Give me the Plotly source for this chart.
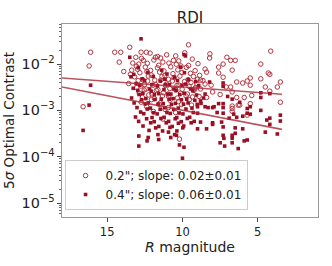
import plotly.graph_objects as go

# ---- data: 0.2" (open circles) : (R magnitude, 5-sigma contrast)
pts02 = [
    (16.1, 1.8e-2), (16.2, 9.1e-3), (16.6, 1.2e-3), (14.5, 1.8e-2), (14.1, 1.8e-2), (14.2, 1.1e-2),
    (13.9, 6.9e-3), (13.5, 2.3e-2), (12.75, 1.8e-2), (12.4, 1.8e-2), (11.8, 1.4e-2), (11.65, 1.45e-2),
    (13.1, 1.4e-2), (12.6, 1.2e-2), (13.3, 1.05e-2), (12.9, 1.0e-2), (11.3, 1.1e-2), (10.9, 1.05e-2),
    (10.6, 1.2e-2), (9.6, 2.6e-2), (10.1, 9.1e-3), (9.6, 9.3e-3),
    (8.18, 1.66e-2), (8.2, 1.35e-2), (7.05, 1.4e-2), (6.8, 1.2e-2), (6.5, 1.2e-2), (7.3, 1.0e-2),
    (7.6, 8.6e-3), (6.7, 7.4e-3), (8.5, 7.8e-3), (8.4, 6.7e-3), (7.6, 6.4e-3), (7.3, 5.2e-3),
    (9.0, 4.7e-3), (8.8, 4.5e-3), (5.5, 5.0e-3), (6.4, 4.1e-3), (6.0, 3.9e-3), (5.7, 4.3e-3),
    (8.5, 3.7e-3), (8.1, 3.5e-3), (6.8, 3.2e-3), (7.1, 3.2e-3), (9.2, 2.9e-3), (8.8, 2.9e-3),
    (8.0, 2.5e-3), (7.5, 2.2e-3), (6.7, 2.5e-3), (5.9, 1.9e-3), (5.4, 2.1e-3), (8.9, 2.0e-3),
    (6.4, 1.9e-3), (6.7, 1.24e-3), (6.3, 1.3e-3), (6.7, 9.6e-4), (9.4, 1.3e-3), (8.4, 1.9e-3),
    (4.14, 1.9e-2), (4.8, 1.0e-2), (4.2, 6.0e-3), (4.8, 4.8e-3), (3.5, 4.1e-3), (4.5, 3.2e-3),
    (3.7, 3.2e-3), (4.2, 2.6e-3), (3.5, 1.5e-3), (5.5, 3.5e-3), (4.3, 6.4e-3), (5.5, 1.4e-3),
    (6.2, 1.3e-3), (5.7, 7.9e-4), (6.7, 1.1e-3),
    (12.15, 1.72e-2), (11.05, 1.58e-2), (10.45, 1.5e-2), (9.85, 1.75e-2), (11.9, 1.22e-2),
    (11.45, 1.35e-2), (10.25, 1.17e-2), (9.35, 1.28e-2), (12.72, 1.33e-2), (12.33, 1.04e-2),
    (11.58, 9.4e-3), (10.41, 9.9e-3), (8.97, 1.02e-2), (13.06, 9.0e-3),
    (12.98, 7.7e-3), (12.47, 8.6e-3), (12.12, 7.3e-3), (11.66, 8.3e-3), (11.23, 7.1e-3), (10.78, 8.7e-3),
    (10.31, 7.5e-3), (9.74, 8.5e-3), (9.16, 7.2e-3), (13.37, 7.4e-3),
    (13.46, 6.0e-3), (12.83, 6.5e-3), (12.36, 6.9e-3), (12.07, 5.8e-3), (11.52, 6.7e-3), (11.17, 5.6e-3),
    (10.63, 6.2e-3), (10.04, 6.6e-3), (9.47, 6.3e-3), (8.86, 5.7e-3),
    (13.18, 5.3e-3), (12.64, 4.6e-3), (12.27, 5.5e-3), (11.84, 4.5e-3), (11.36, 5.4e-3), (10.93, 4.7e-3),
    (10.56, 5.1e-3), (10.17, 5.5e-3), (9.63, 4.6e-3), (9.27, 5.4e-3), (8.64, 4.4e-3),
    (13.57, 3.8e-3), (12.94, 4.4e-3), (12.53, 3.6e-3), (12.31, 4.3e-3), (11.77, 3.6e-3), (11.44, 4.5e-3),
    (11.06, 3.7e-3), (10.67, 4.3e-3), (10.23, 3.5e-3), (9.86, 4.2e-3), (9.43, 4.0e-3), (9.04, 3.7e-3),
    (13.03, 3.1e-3), (12.76, 3.35e-3), (12.42, 2.9e-3), (11.96, 3.5e-3), (11.63, 2.8e-3), (11.14, 3.45e-3),
    (10.84, 2.95e-3), (10.36, 3.45e-3), (10.02, 2.85e-3), (9.56, 3.3e-3), (9.13, 3.1e-3),
    (12.87, 2.35e-3), (12.54, 2.75e-3), (12.03, 2.25e-3), (11.74, 2.7e-3), (11.27, 2.4e-3), (10.96, 2.25e-3),
    (10.44, 2.75e-3), (10.13, 2.35e-3), (9.67, 2.25e-3), (9.24, 2.7e-3),
    (12.66, 1.9e-3), (12.24, 2.15e-3), (11.86, 1.8e-3), (11.33, 2.05e-3), (10.91, 1.95e-3), (10.34, 1.85e-3),
    (9.76, 2.05e-3), (9.33, 1.95e-3),
    (12.74, 1.5e-3), (12.06, 1.7e-3), (11.47, 1.45e-3), (10.83, 1.65e-3), (10.26, 1.55e-3), (9.54, 1.7e-3),
    (12.37, 1.2e-3), (11.56, 1.35e-3), (10.94, 1.15e-3), (10.06, 1.35e-3),
    (11.93, 9.5e-4), (11.16, 1.05e-3), (10.46, 9.0e-4), (11.3, 6.5e-4), (10.2, 2.4e-4),
]

# ---- data: 0.4" (filled squares)
pts04 = [
    (16.1, 3.5e-3), (16.2, 1.3e-3), (16.6, 3.7e-4), (12.75, 3.5e-2), (13.5, 1.4e-2), (9.8, 1.5e-2),
    (9.9, 1.6e-2),
    (7.3, 3.9e-3), (7.3, 3.3e-3), (8.5, 2.25e-3), (8.6, 1.85e-3), (8.8, 1.6e-3), (8.5, 1.2e-3),
    (8.3, 1.15e-3), (8.0, 1.15e-3), (7.9, 1.2e-3), (7.6, 1.4e-3), (7.3, 1.4e-3), (7.3, 1.15e-3),
    (7.7, 9.0e-4), (9.0, 8.7e-4), (9.0, 1.2e-3), (6.7, 1.75e-3), (7.0, 2.0e-3), (6.6, 8.3e-4),
    (6.0, 7.5e-4), (5.7, 8.7e-4), (5.5, 8.3e-4), (7.3, 8.7e-4), (6.4, 7.1e-4), (6.9, 6.8e-4),
    (8.8, 5.6e-4), (9.0, 4.0e-4), (8.4, 4.0e-4), (8.0, 5.0e-4), (7.3, 4.4e-4), (7.4, 5.6e-4),
    (7.3, 2.9e-4), (7.25, 2.5e-4), (7.5, 2.0e-4), (7.2, 1.7e-4), (6.7, 2.5e-4), (6.7, 2.9e-4),
    (6.5, 3.2e-4), (6.5, 4.2e-4), (6.7, 2.0e-4), (6.3, 1.5e-4), (6.0, 4.0e-4), (5.9, 2.2e-4),
    (8.0, 5.4e-4), (8.2, 4.1e-3), (6.2, 1.5e-3), (5.7, 1.1e-3), (5.5, 1.2e-3), (4.4, 6.2e-4),
    (4.8, 2.4e-3), (4.8, 1.9e-3), (4.2, 2.3e-3), (4.8, 1.0e-3), (3.5, 7.9e-4), (4.2, 6.8e-4),
    (4.2, 5.0e-4), (4.5, 3.4e-4), (3.7, 3.1e-4), (3.5, 5.9e-4), (5.7, 2.3e-4),
    (12.93, 8.3e-3), (11.38, 7.4e-3), (10.12, 8.6e-3),
    (13.24, 6.0e-3), (12.31, 6.6e-3), (11.03, 6.1e-3), (9.87, 6.5e-3),
    (13.42, 5.3e-3), (12.68, 4.8e-3), (11.94, 5.4e-3), (11.17, 4.7e-3), (10.53, 5.2e-3), (9.61, 4.6e-3),
    (13.08, 3.8e-3), (12.52, 4.4e-3), (12.04, 3.6e-3), (11.47, 4.3e-3), (10.86, 3.6e-3), (10.33, 4.4e-3),
    (9.78, 3.7e-3), (9.12, 4.2e-3),
    (13.27, 3.0e-3), (12.83, 3.5e-3), (12.18, 2.9e-3), (11.66, 3.4e-3), (11.12, 3.6e-3), (10.57, 2.9e-3),
    (10.03, 3.5e-3), (9.46, 2.9e-3), (8.92, 3.4e-3),
    (12.97, 2.7e-3), (12.63, 2.35e-3), (12.08, 2.6e-3), (11.58, 2.3e-3), (11.23, 2.8e-3), (10.77, 2.25e-3),
    (10.42, 2.7e-3), (9.88, 2.35e-3), (9.32, 2.65e-3),
    (13.38, 1.85e-3), (12.88, 2.2e-3), (12.43, 1.8e-3), (11.87, 2.2e-3), (11.41, 1.75e-3), (10.97, 2.25e-3),
    (10.62, 1.8e-3), (10.18, 2.2e-3), (9.72, 1.75e-3), (9.07, 2.15e-3),
    (13.21, 1.45e-3), (12.72, 1.7e-3), (12.27, 1.45e-3), (11.83, 1.72e-3), (11.28, 1.4e-3), (10.88, 1.75e-3),
    (10.47, 1.42e-3), (10.07, 1.7e-3), (9.63, 1.45e-3), (9.18, 1.65e-3), (8.77, 1.42e-3),
    (13.02, 1.15e-3), (12.48, 1.38e-3), (12.13, 1.12e-3), (11.62, 1.36e-3), (11.18, 1.14e-3), (10.73, 1.34e-3),
    (10.28, 1.12e-3), (9.93, 1.36e-3), (9.37, 1.12e-3), (9.02, 1.35e-3),
    (12.78, 9.2e-4), (12.34, 1.07e-3), (11.92, 8.9e-4), (11.48, 1.06e-3), (11.03, 9.0e-4), (10.58, 1.05e-3),
    (10.22, 8.8e-4), (9.77, 1.07e-3), (9.28, 9.0e-4),
    (13.12, 7.2e-4), (12.57, 8.5e-4), (12.02, 7.0e-4), (11.68, 8.4e-4), (11.22, 7.1e-4), (10.81, 8.6e-4),
    (10.38, 7.0e-4), (9.97, 8.4e-4), (9.52, 7.1e-4),
    (12.91, 5.8e-4), (12.38, 6.6e-4), (11.88, 5.7e-4), (11.43, 6.7e-4), (10.92, 5.8e-4), (10.48, 6.6e-4),
    (10.08, 5.7e-4), (9.68, 6.7e-4), (9.22, 5.8e-4),
    (12.62, 4.6e-4), (12.11, 5.4e-4), (11.57, 4.5e-4), (11.08, 5.4e-4), (10.68, 4.5e-4), (10.27, 5.3e-4),
    (9.92, 4.6e-4), (9.42, 5.4e-4),
    (12.22, 3.7e-4), (11.78, 4.2e-4), (11.32, 3.6e-4), (10.83, 4.3e-4), (10.37, 3.6e-4), (9.98, 4.2e-4),
    (11.63, 3.0e-4), (10.93, 3.4e-4), (10.52, 3.0e-4), (12.28, 2.6e-4), (11.58, 2.35e-4), (10.78, 2.6e-4),
    (12.9, 1.7e-4), (10.2, 1.8e-4), (9.9, 1.6e-4), (10.0, 9.3e-5), (12.35, 2.2e-4), (12.9, 2.8e-4),
    (10.4, 2.9e-4),
]

r02 = [p[0] for p in pts02]
c02 = [p[1] for p in pts02]
r04 = [p[0] for p in pts04]
c04 = [p[1] for p in pts04]

# linear fits in log10(contrast) vs R
fit_r = [18.0, 3.4]
fit02_intercept, fit02_slope = -2.732, 0.024
fit04_intercept, fit04_slope = -3.623, 0.0626

labels = ['0.2"; slope: 0.02±0.01', '0.4"; slope: 0.06±0.01']

col_circ = "#b3343f"
col_sq = "#9b0f24"
col_line = "rgba(170,40,55,0.8)"

fig = go.Figure()
fig.add_trace(go.Scatter(
    x=r02, y=c02, mode="markers", name=labels[0],
    marker=dict(symbol="circle-open", size=4.5, color=col_circ, line=dict(width=1, color=col_circ)),
))
fig.add_trace(go.Scatter(
    x=r04, y=c04, mode="markers", name=labels[1],
    marker=dict(symbol="square", size=3.6, color=col_sq, line=dict(width=0)),
))
for a, b in [(fit02_intercept, fit02_slope), (fit04_intercept, fit04_slope)]:
    fy = [10 ** (a + b * r) for r in fit_r]
    fig.add_trace(go.Scatter(x=fit_r, y=fy, mode="lines", showlegend=False,
                             line=dict(color=col_line, width=1.6), hoverinfo="skip"))

font_family = "DejaVu Sans"
fig.update_layout(
    width=332, height=266,
    margin=dict(l=62, r=14, t=24, b=49),
    paper_bgcolor="white", plot_bgcolor="white",
    font=dict(family=font_family, size=11, color="#222"),
    title=dict(text="RDI", x=0.5, xref="paper", xanchor="center", y=0.932, yanchor="middle",
               font=dict(size=15, color="#222")),
    showlegend=True,
    legend=dict(x=0.01, y=0.036, xanchor="left", yanchor="bottom",
                bgcolor="white", bordercolor="#cccccc", borderwidth=1, itemwidth=30,
                font=dict(size=12, color="#222"), itemsizing="trace"),
)
fig.update_xaxes(
    range=[18, 1], tickvals=[15, 10, 5], ticks="outside", ticklen=4, tickcolor="#444",
    showline=True, linecolor="#999", linewidth=1, mirror=True, showgrid=False, zeroline=False,
    title=dict(text="<i>R</i> magnitude", font=dict(size=14), standoff=1),
    tickfont=dict(size=11.5), automargin=False,
)
fig.update_yaxes(
    type="log", range=[-5.30, -1.136], dtick=1, exponentformat="power",
    ticks="outside", ticklen=4, tickcolor="#444",
    minor=dict(ticks="outside", ticklen=2, tickcolor="#666", showgrid=False),
    showline=True, linecolor="#999", linewidth=1, mirror=True, showgrid=False, zeroline=False,
    title=dict(text="5<i>σ</i> Optimal Contrast", font=dict(size=13.5), standoff=3),
    tickfont=dict(size=11.5), automargin=False,
)

fig.write_html("out.html", config={"displayModeBar": False},
               post_script="document.body.style.margin='0px';")
